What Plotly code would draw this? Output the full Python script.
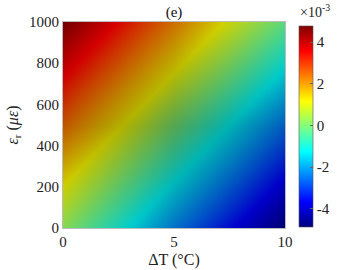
import plotly.graph_objects as go

# Data (values in units of 1e-3)
delta_t = [0, 2.5, 5, 7.5, 10]
strain = [0, 250, 500, 750, 1000]
# rows = strain, cols = delta_t
z_vals = [
    [0.23, -1.03, -2.28, -3.54, -4.80],
    [1.37, 0.11, -1.14, -2.40, -3.66],
    [2.52, 1.26, 0.00, -1.25, -2.51],
    [3.66, 2.40, 1.14, -0.11, -1.37],
    [4.80, 3.54, 2.29, 1.03, -0.23],
]
cb_ticks = [-4, -2, 0, 2, 4]
x_ticks = [0, 5, 10]
y_ticks = [0, 200, 400, 600, 800, 1000]

jet = [
    [0.0, "rgb(0,0,128)"],
    [0.125, "rgb(0,0,255)"],
    [0.375, "rgb(0,255,255)"],
    [0.625, "rgb(255,255,0)"],
    [0.875, "rgb(255,0,0)"],
    [1.0, "rgb(128,0,0)"],
]

# darkening overlay to mimic the lit surface (edges brighter, interior darker)
shade_x = [0, 5, 10]
shade_y = [0, 500, 1000]
shade = [
    [0.15, 0.22, 0.18],
    [0.25, 0.35, 0.25],
    [0.12, 0.20, 0.15],
]

font_family = "'Times New Roman', 'Liberation Serif', serif"

fig = go.Figure()
fig.add_trace(go.Heatmap(
    x=delta_t, y=strain, z=z_vals, zsmooth="best",
    colorscale=jet, zmin=-4.85, zmax=4.8,
    colorbar=dict(
        x=1.063, xanchor="left", thickness=14, len=0.975, y=0.495, yanchor="middle",
        tickvals=cb_ticks, ticktext=[str(v) for v in cb_ticks],
        ticks="inside", ticklen=3, tickcolor="#666",
        outlinewidth=0.6, outlinecolor="#555", xpad=0, ypad=0,
        tickfont=dict(family=font_family, size=15, color="#222"),
    ),
    hoverinfo="skip",
))
fig.add_trace(go.Heatmap(
    x=shade_x, y=shade_y, z=shade, zsmooth="best",
    colorscale=[[0, "rgba(0,0,0,0)"], [1, "rgba(0,0,0,1)"]],
    zmin=0, zmax=1, showscale=False, hoverinfo="skip",
))

fig.add_annotation(
    text="×10<sup>-3</sup>", x=1.06, xref="paper", y=1.0, yref="paper",
    xanchor="left", yanchor="bottom", showarrow=False,
    font=dict(family=font_family, size=14, color="#222"),
)

fig.update_layout(
    width=360, height=270,
    margin=dict(l=63, r=75, t=22, b=42, autoexpand=False),
    paper_bgcolor="white", plot_bgcolor="white",
    title=dict(text="(e)", x=0.5, xref="paper", xanchor="center", y=0.955, yanchor="middle",
               font=dict(family=font_family, size=15, color="#111")),
    font=dict(family=font_family, size=15, color="#222"),
    showlegend=False,
)
fig.update_xaxes(
    range=[0, 10], tickvals=x_ticks, ticks="", showgrid=False, zeroline=False,
    showline=True, linecolor="#bbb", mirror=True,
    title=dict(text="ΔT (°C)", standoff=4, font=dict(family=font_family, size=16)),
    tickfont=dict(family=font_family, size=15),
)
fig.update_yaxes(
    range=[0, 1000], tickvals=y_ticks, ticks="", showgrid=False, zeroline=False,
    showline=True, linecolor="#bbb", mirror=True,
    title=dict(text="<i>ε</i><sub>r</sub> (<i>με</i>)", standoff=6, font=dict(family=font_family, size=16)),
    tickfont=dict(family=font_family, size=15),
)

fig.write_html("out.html", config={"displayModeBar": False},
               post_script="document.body.style.margin='0';")
